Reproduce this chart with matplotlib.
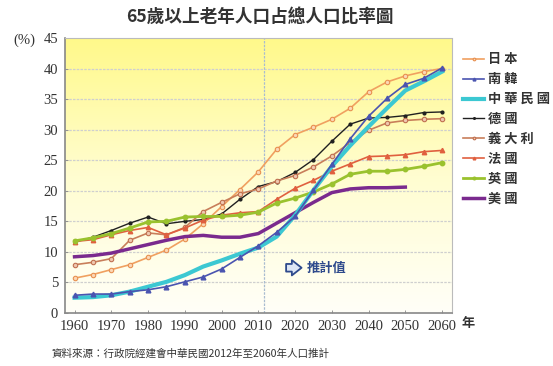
import numpy as np
import matplotlib
matplotlib.use("Agg")
import matplotlib.pyplot as plt
from matplotlib.colors import LinearSegmentedColormap

plt.rcParams['font.family'] = ['Noto Sans CJK TC', 'DejaVu Sans']

years = list(range(1960, 2065, 5))

japan = [5.7, 6.3, 7.1, 7.9, 9.1, 10.3, 12.1, 14.6, 17.4, 20.2, 23.1, 26.8,
         29.2, 30.4, 31.7, 33.5, 36.2, 37.8, 38.8, 39.5, 40.0]
korea = [2.9, 3.1, 3.1, 3.5, 3.8, 4.3, 5.1, 5.9, 7.2, 9.1, 11.0, 13.2,
         15.8, 20.1, 24.3, 28.5, 32.2, 35.1, 37.4, 38.4, 40.1]
taiwan = [2.5, 2.6, 2.9, 3.5, 4.3, 5.1, 6.2, 7.6, 8.6, 9.7, 10.7, 12.5,
          16.0, 20.1, 24.0, 27.4, 30.5, 33.5, 36.4, 37.9, 39.5]
germany = [11.6, 12.4, 13.5, 14.7, 15.7, 14.6, 15.0, 15.3, 16.2, 18.6, 20.7, 21.5,
           23.0, 25.1, 28.1, 30.9, 31.9, 32.0, 32.3, 32.8, 32.9]
italy = [7.9, 8.3, 8.9, 11.9, 13.1, 12.8, 14.0, 16.6, 18.1, 19.5, 20.3, 21.6,
         22.5, 23.9, 25.7, 27.9, 29.9, 31.1, 31.5, 31.7, 31.8]
france = [11.7, 12.0, 12.8, 13.5, 14.0, 12.8, 13.9, 15.2, 16.0, 16.4, 16.6, 18.6,
          20.4, 21.7, 23.2, 24.4, 25.6, 25.7, 25.9, 26.4, 26.6]
uk = [11.8, 12.3, 13.0, 13.9, 14.9, 15.0, 15.7, 15.8, 15.8, 16.0, 16.5, 18.0,
      18.8, 19.8, 21.1, 22.7, 23.2, 23.2, 23.5, 24.0, 24.6]
usa_years = list(range(1960, 2055, 5))
usa = [9.2, 9.4, 9.8, 10.5, 11.2, 11.9, 12.5, 12.7, 12.4, 12.4, 13.0, 14.7,
       16.4, 18.1, 19.7, 20.3, 20.5, 20.5, 20.6]

labels = ['日 本', '南 韓', '中 華 民 國', '德 國', '義 大 利', '法 國', '英 國', '美 國']

fig = plt.figure(figsize=(5.53, 3.66), dpi=100)
ax = fig.add_axes([65/553, 1-313/366, (452-65)/553, (313-38)/366])

xmin, xmax = 1957.4, 2062.7
ax.set_xlim(xmin, xmax)
ax.set_ylim(0, 45)

# gradient background
cmap = LinearSegmentedColormap.from_list('bg', ['#FFFFF8', '#FFFDD0', '#FFF98A'])
grad = np.linspace(0, 1, 256).reshape(-1, 1)
ax.imshow(grad, extent=[xmin, xmax, 0, 45], origin='lower', aspect='auto',
          cmap=cmap, zorder=0)

for yv in range(5, 45, 5):
    ax.axhline(yv, color='#CFCFCF', lw=0.9, ls=(0, (2, 1)), zorder=1)
ax.axvline(2011.5, color='#A9BCD0', lw=0.9, ls=(0, (2, 1)), zorder=1)

h = []
h += ax.plot(years, japan, color='#F0A060', lw=1.2, marker='o', ms=3.2,
             mfc='#FBD7B5', mec='#E89050', mew=0.8, zorder=3)
h += ax.plot(years, korea, color='#4A54B0', lw=1.2, marker='^', ms=3.4,
             mfc='#4A54B0', mec='#4A54B0', zorder=5)
h += ax.plot(years, taiwan, color='#3CC8D2', lw=3, zorder=4)
h += ax.plot(years, germany, color='#202020', lw=1.0, marker='o', ms=2,
             mfc='#202020', zorder=3)
h += ax.plot(years, italy, color='#C87E5A', lw=1.2, marker='o', ms=3.2,
             mfc='#EFC8B0', mec='#C07050', mew=0.8, zorder=3)
h += ax.plot(years, france, color='#E0603F', lw=1.2, marker='^', ms=3.2,
             mfc='#E0603F', mec='#E0603F', zorder=3)
h += ax.plot(years, uk, color='#9AC22E', lw=2.0, marker='o', ms=3.2,
             mfc='#9AC22E', mec='#9AC22E', zorder=3)
h += ax.plot(usa_years, usa, color='#7A2A8E', lw=2.5, zorder=3)

ax.set_xticks(list(range(1960, 2061, 10)))
ax.set_yticks(list(range(0, 46, 5)))
serif = 'Liberation Serif'
ax.set_xticklabels([str(v) for v in range(1960, 2061, 10)], family=serif,
                   fontsize=10.5, color='#333333')
ax.set_yticklabels([str(v) for v in range(0, 46, 5)], family=serif,
                   fontsize=10.5, color='#333333')
ax.tick_params(axis='both', length=2, width=0.6, color='#888888', direction='in', pad=5)

for s in ['left', 'bottom']:
    ax.spines[s].set_color('#888888')
    ax.spines[s].set_linewidth(1.2)
for s in ['top', 'right']:
    ax.spines[s].set_color('#BBBBBB')
    ax.spines[s].set_linewidth(0.8)
    ax.spines[s].set_linestyle((0, (1, 1)))

fig.text(35/553, 1-40/366, '(%)', family=serif, fontsize=10.5, color='#333333',
         ha='right', va='center')
fig.text(468/553, 1-323/366, '年', fontsize=9.5, fontweight='bold',
         color='#333333', ha='center', va='center')

fig.suptitle('65歲以上老年人口占總人口比率圖', x=260/553, y=1-17/366, va='center',
             fontsize=12.7, fontweight='bold', color='#333333')

fig.text(52/553, 1-353/366, '資料來源：行政院經建會中華民國2012年至2060年人口推計',
         fontsize=7.6, color='#333333', ha='left', va='center')

# projection annotation
ax.annotate('', xy=(2010 + (304-258)/3.673, 7.4), xytext=(2010 + (283-258)/3.673, 7.4),
            arrowprops=dict(arrowstyle='simple,head_length=0.7,head_width=1.1,tail_width=0.55',
                            fc='#DDE6F5', ec='#2E4A8C', lw=1.3), zorder=6)
ax.text(2010 + (306-258)/3.673, 7.4, '推計值', fontsize=9.5, fontweight='bold',
        color='#2E4A8C', ha='left', va='center', zorder=6)

leg = fig.legend(h, labels, loc='upper left', bbox_to_anchor=(458/553, 1-47/366),
                 frameon=False, fontsize=9.5, handlelength=1.6, handletextpad=0.3,
                 labelspacing=0.45, borderaxespad=0, markerscale=0.6)
for t in leg.get_texts():
    t.set_fontweight('bold')
    t.set_color('#333333')

fig.savefig('out.png', dpi=100)
